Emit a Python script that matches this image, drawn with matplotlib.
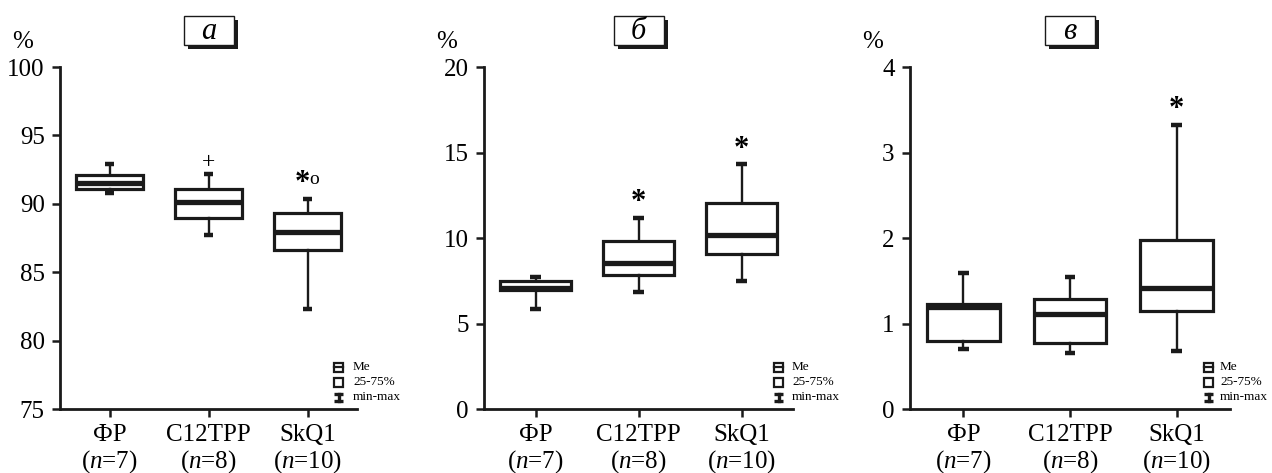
import matplotlib
matplotlib.use("Agg")
import matplotlib.pyplot as plt
from matplotlib.patches import Rectangle
from matplotlib.lines import Line2D

plt.rcParams['font.family'] = ['Liberation Serif', 'DejaVu Serif']
plt.rcParams['mathtext.fontset'] = 'custom'
plt.rcParams['mathtext.it'] = 'Liberation Serif:italic'
plt.rcParams['mathtext.rm'] = 'Liberation Serif'

categories = ["ФР", "C12TPP", "SkQ1"]
n_values = [7, 8, 10]
panel_letters = ["а", "б", "в"]

# [min, q1, median, q3, max] for each group
panel_a = [[90.76, 91.08, 91.5, 92.1, 92.9],
           [87.72, 88.93, 90.15, 91.05, 92.17],
           [82.3, 86.62, 87.91, 89.35, 90.35]]
panel_b = [[5.84, 6.96, 7.1, 7.51, 7.7],
           [6.83, 7.84, 8.52, 9.84, 11.15],
           [7.51, 9.07, 10.18, 12.06, 14.3]]
panel_c = [[0.70, 0.79, 1.19, 1.23, 1.59],
           [0.66, 0.77, 1.11, 1.29, 1.54],
           [0.68, 1.15, 1.41, 1.98, 3.32]]

ylims = [(75, 100), (0, 20), (0, 4)]
yticks = [[75, 80, 85, 90, 95, 100], [0, 5, 10, 15, 20], [0, 1, 2, 3, 4]]

# significance marks: (group index, y, text)
marks_a = [(1, 93.05, "+"), (2, 91.5, "*o")]
marks_b = [(1, 12.1, "*"), (2, 15.15, "*")]
marks_c = [(2, 3.5, "*")]

legend_labels = ["Me", "25-75%", "min-max"]

panels = [panel_a, panel_b, panel_c]
marks = [marks_a, marks_b, marks_c]

W, H = 1272, 473
fig = plt.figure(figsize=(W / 100, H / 100), dpi=100)
INK = '#1a1a1a'

axes_px = [(60, 357), (484, 793), (910, 1230)]
legend_off = [(-23, -4), (-19, -1), (-26, -10)]  # icon left, text left (px from right spine)
top_px, bot_px = 67, 409


def fx(px):
    return px / W


def fy(py):
    return 1 - py / H


for i, (data, (l, r)) in enumerate(zip(panels, axes_px)):
    ax = fig.add_axes([l / W, 1 - bot_px / H, (r - l) / W, (bot_px - top_px) / H])
    stats = []
    for d in data:
        stats.append(dict(whislo=d[0], q1=d[1], med=d[2], q3=d[3], whishi=d[4], fliers=[]))
    ax.bxp(stats, positions=[1, 2, 3], widths=0.68, capwidths=0.1,
           showfliers=False, patch_artist=True,
           boxprops=dict(facecolor='white', edgecolor=INK, linewidth=2.3),
           medianprops=dict(color=INK, linewidth=3.8, solid_capstyle='butt'),
           whiskerprops=dict(color=INK, linewidth=1.7),
           capprops=dict(color=INK, linewidth=3.2, solid_capstyle='butt'))
    ax.set_xlim(0.5, 3.5)
    ax.set_ylim(*ylims[i])
    ax.set_yticks(yticks[i])
    ax.set_xticks([1, 2, 3])
    ax.set_xticklabels([f"{c}\n($n$={n})" for c, n in zip(categories, n_values)],
                       linespacing=1.1, fontsize=18)
    for s in ['top', 'right']:
        ax.spines[s].set_visible(False)
    for s in ['left', 'bottom']:
        ax.spines[s].set_linewidth(2.0)
        ax.spines[s].set_color(INK)
    ax.tick_params(axis='both', length=6, width=1.8, color=INK, labelsize=18)
    ax.tick_params(axis='x', pad=5)
    ax.tick_params(axis='y', pad=5)

    for gi, y, t in marks[i]:
        if t == "*o":
            ax.text(gi + 1 - 0.05, y, "*", ha='center', va='center', fontsize=22,
                    fontweight='bold')
            ax.text(gi + 1 + 0.07, y + (ylims[i][1] - ylims[i][0]) * 0.01, "o",
                    ha='center', va='center', fontsize=14)
        elif t == "*":
            ax.text(gi + 1, y, t, ha='center', va='center', fontsize=22,
                    fontweight='bold')
        else:
            ax.text(gi + 1, y, t, ha='center', va='center', fontsize=17)

    # legend (figure-pixel placement)
    rows = [367, 382, 397]
    ioff, toff = legend_off[i]
    for k, (lab, yy) in enumerate(zip(legend_labels, rows)):
        fig.text(fx(r + toff), fy(yy), lab, ha='left', va='center', fontsize=9.5)
        x0, x1 = r + ioff, r + ioff + 9
        if k < 2:
            fig.patches.append(Rectangle((fx(x0), fy(yy + 4.5)), (x1 - x0) / W, 9 / H,
                                         transform=fig.transFigure, facecolor='white',
                                         edgecolor=INK, linewidth=1.6))
            if k == 0:
                fig.lines.append(Line2D([fx(x0), fx(x1)], [fy(yy), fy(yy)],
                                        transform=fig.transFigure, color=INK, linewidth=1.6))
        else:
            for yb in (yy - 3.5, yy + 3.5):
                fig.lines.append(Line2D([fx(x0), fx(x1)], [fy(yb), fy(yb)],
                                        transform=fig.transFigure, color=INK, linewidth=2.4,
                                        solid_capstyle='butt'))
            fig.lines.append(Line2D([fx((x0 + x1) / 2)] * 2, [fy(yy - 3.5), fy(yy + 3.5)],
                                    transform=fig.transFigure, color=INK, linewidth=2.4))

    # "%" label
    fig.text(fx(l - 48), fy(42), "%", ha='left', va='center', fontsize=18)

    # title box with shadow
    cx = (l + r) / 2
    bw, bh = 50, 29
    bx0, by0 = cx - bw / 2, 16
    fig.patches.append(Rectangle((fx(bx0 + 4), fy(by0 + bh + 4)), bw / W, bh / H,
                                 transform=fig.transFigure, facecolor=INK,
                                 edgecolor=INK, linewidth=0))
    fig.patches.append(Rectangle((fx(bx0), fy(by0 + bh)), bw / W, bh / H,
                                 transform=fig.transFigure, facecolor='white',
                                 edgecolor=INK, linewidth=1.0))
    fig.text(fx(cx), fy(by0 + bh / 2 + 1), panel_letters[i], ha='center', va='center',
             fontsize=22, style='italic')

fig.savefig("out.png", dpi=100)
